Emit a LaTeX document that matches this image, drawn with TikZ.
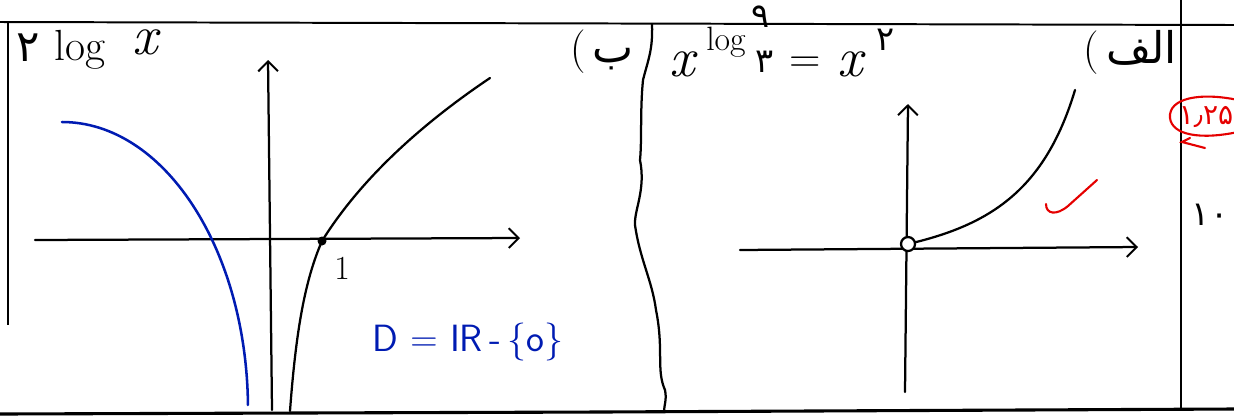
\documentclass[tikz,border=0pt]{standalone}
\usepackage{fontspec}
\newfontfamily\arfont[Script=Arabic]{DejaVu Sans}
\TeXXeTstate=1
\usetikzlibrary{arrows.meta}
\tikzset{
  ink/.style={line width=1.6pt, line cap=round, line join=round, black},
  frame/.style={line width=1.4pt, black},
  blueink/.style={line width=1.8pt, line cap=round, color=blue!85!cyan!70!black},
  redink/.style={line width=1.5pt, line cap=round, red!90!black},
  axisarrow/.style={ink, -{Straight Barb[length=7pt,width=14pt,line width=1.4pt]}},
  hand/.style={inner sep=0pt, font=\fontsize{31}{33}\selectfont},
  handsmall/.style={inner sep=0pt, font=\fontsize{24}{26}\selectfont},
  handx/.style={inner sep=0pt, font=\fontsize{40}{42}\selectfont\itshape},
}
\begin{document}
\begin{tikzpicture}[x=0.025cm, y=-0.025cm]
\useasboundingbox (0,0) rectangle (1234,417);
% frame lines
\draw[frame] (0,22) -- (1234,25);
\draw[frame, line width=2.2pt] (0,414) -- (600,412) -- (1234,409);
\draw[frame] (8,22) -- (8,325);
\draw[line width=1pt] (1181,0) -- (1181,410);
% wavy divider
\draw[ink] (652,24) .. controls (653,50) and (648,60) .. (643,80)
  .. controls (640,110) and (642,140) .. (640,160)
  .. controls (646,190) and (634,210) .. (635,225)
  .. controls (640,260) and (652,280) .. (656,310)
  .. controls (664,350) and (656,370) .. (665,390)
  .. controls (667,400) and (664,405) .. (664,412);

% ---------- left graph ----------
\coordinate (lxs) at (35,240);
\coordinate (lxe) at (520,238);
\coordinate (lys) at (272,410);
\coordinate (lye) at (268,60);
\draw[axisarrow] (lxs) -- (lxe);
\draw[axisarrow] (lys) -- (lye);
\coordinate (one) at (322,241);
\draw[ink] (290,411) .. controls (296,330) and (305,280) .. (one)
  .. controls (360,180) and (420,125) .. (490,78);
\fill (one) circle (4.5);
\node[handsmall] (lblone) at (342,268) {1};
% blue curve
\draw[blueink] (62,122) arc[start angle=-90, end angle=-1, x radius=186, y radius=288];
\node[hand, text=blue!85!cyan!70!black, font=\fontsize{27}{29}\selectfont\sffamily] (dom) at (468,342) {D = IR\,-\,\{o\}};
% title
\node[hand] (two) at (28,48) {\arfont ۲};
\node[hand] (log1) at (80,50) {log};
\node[handx] (x1) at (145,42) {x};
\node[hand] (b) at (602,52) {(\,{\arfont ب}};

% ---------- right graph ----------
\coordinate (rxs) at (740,250);
\coordinate (rxe) at (1138,247);
\coordinate (rys) at (905,392);
\coordinate (rye) at (908,104);
\draw[axisarrow] (rxs) -- (rxe);
\draw[axisarrow] (rys) -- (rye);
\coordinate (orig) at (908,244);
\draw[ink] (orig) .. controls (990,225) and (1045,190) .. (1075,90);
\draw[ink, fill=white] (orig) circle (7);
% red check
\draw[redink] (1046,204) .. controls (1046,214) and (1056,216) .. (1068,206) -- (1097,180);
% formula
\node[handx] (x2) at (682,64) {x};
\node[handsmall] (log2) at (726,42) {log};
\node[handsmall] (nine) at (761,17) {\arfont ۹};
\node[handsmall] (three) at (765,62) {\arfont ۳};
\node[hand] (eq) at (805,65) {=};
\node[handx] (x3) at (850,64) {x};
\node[handsmall] (two2) at (886,40) {\arfont ۲};
\node[hand] (alef) at (1130,52) {(\,{\arfont\beginR الف\endR}};
% right column
\begin{scope}
\clip (1160,80) rectangle (1234,170);
\draw[redink] (1238,100) .. controls (1200,92) and (1168,98) .. (1170,118)
  .. controls (1172,135) and (1200,140) .. (1238,132);
\draw[redink] (1190,138) -- (1182,142) -- (1205,148);
\end{scope}
\node[inner sep=0pt, font=\fontsize{20}{22}\selectfont, text=red!90!black] (grade) at (1206,117) {\arfont\beginR ۱٫۲۵\endR};
\node[handsmall] (ten) at (1210,215) {\arfont\beginR ۱۰\endR};
\end{tikzpicture}
\end{document}
